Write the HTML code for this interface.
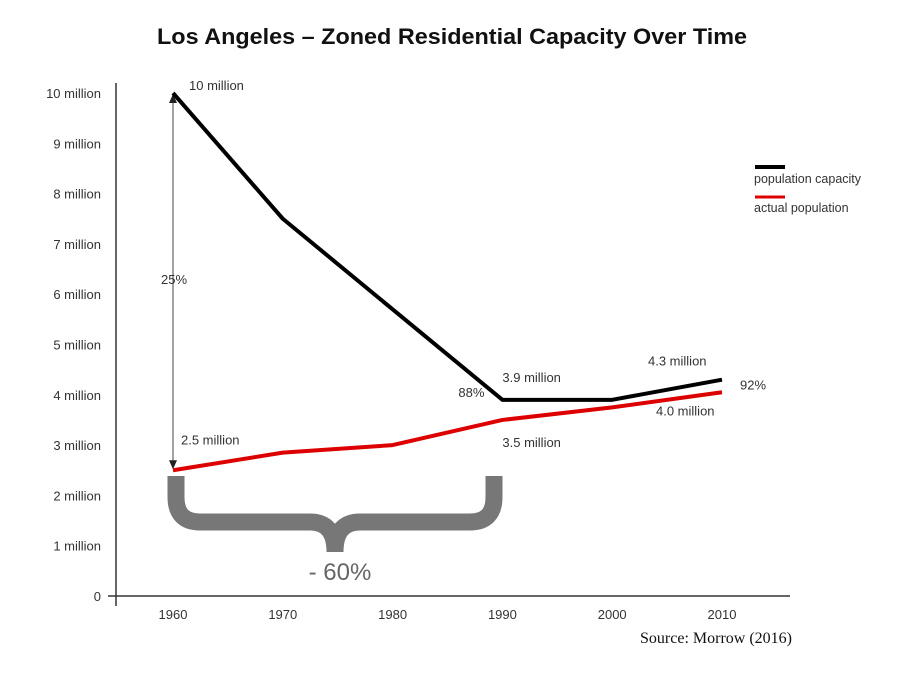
<!DOCTYPE html>
<html><head><meta charset="utf-8"><style>
body{margin:0;background:#fff;width:919px;height:673px;overflow:hidden}
svg text{font-family:"Liberation Sans",sans-serif}
</style></head><body>
<svg width="919" height="673">
<text x="452" y="44" text-anchor="middle" font-size="22" font-weight="bold" fill="#111" textLength="590" lengthAdjust="spacingAndGlyphs">Los Angeles – Zoned Residential Capacity Over Time</text>
<g id="axes"></g>
<g id="marks"></g>
<g>
<path d="M176,476 L176,497 Q176,522 200,522 L310,522 Q335,522 335,552 Q335,522 360,522 L470,522 Q494,522 494,497 L494,476" fill="none" stroke="#777" stroke-width="17"/>
</g>
<text x="340" y="580" text-anchor="middle" font-size="24" fill="#666">- 60%</text>
<text x="792" y="643" text-anchor="end" font-size="16" fill="#111" style="font-family:'Liberation Serif',serif">Source: Morrow (2016)</text>
<g>
<line x1="755" y1="167" x2="785" y2="167" stroke="#000" stroke-width="4"/>
<text x="754" y="183" font-size="12.5" fill="#333">population capacity</text>
<line x1="755" y1="197" x2="785" y2="197" stroke="#d00" stroke-width="3"/>
<text x="754" y="212" font-size="12.5" fill="#333">actual population</text>
</g>
</svg>
<script>
const years=[1960,1970,1980,1990,2000,2010];
const capacity=[10,7.5,5.7,3.9,3.9,4.3];
const actual=[2.5,2.85,3.0,3.5,3.75,4.05];
const yTicks=[0,1,2,3,4,5,6,7,8,9,10];
const notes=[["10 million",1960,10,16,-3],["25%",1960,6.2,-12,0],["2.5 million",1960,2.5,8,-26],["3.9 million",1990,3.9,0,-18],["88%",1990,3.5,-44,-23],["3.5 million",1990,3.5,0,27],["4.3 million",2010,4.3,-74,-14],["92%",2010,4.3,18,10],["4.0 million",2010,4.05,-66,23]];
const NS="http://www.w3.org/2000/svg";
const X=y=>173+(y-1960)*10.98;
const Y=v=>596-v*50.3;
function mk(t,a,p){const e=document.createElementNS(NS,t);for(const k in a)e.setAttribute(k,a[k]);p.appendChild(e);return e;}
const ax=document.getElementById('axes'),mg=document.getElementById('marks');
let l=mk('line',{x1:116,y1:83,x2:116,y2:606,stroke:'#333','stroke-width':1.5},ax);


l=mk('line',{x1:108,y1:596,x2:790,y2:596,stroke:'#333','stroke-width':1.5},ax);


yTicks.forEach(v=>{const t=mk('text',{x:101,y:Y(v)+5,'text-anchor':'end','font-size':13,fill:'#333'},ax);t.textContent=v?v+' million':'0';

});
years.forEach(y=>{const t=mk('text',{x:X(y),y:619,'text-anchor':'middle','font-size':13,fill:'#333'},ax);t.textContent=y;

});
let a=mk('line',{x1:X(1960),y1:Y(10)+6,x2:X(1960),y2:Y(2.5)-6,stroke:'#444','stroke-width':1},mg);


mk('path',{d:`M${X(1960)-4},${Y(10)+10} L${X(1960)},${Y(10)+1} L${X(1960)+4},${Y(10)+10}Z M${X(1960)-4},${Y(2.5)-10} L${X(1960)},${Y(2.5)-1} L${X(1960)+4},${Y(2.5)-10}Z`,fill:'#222'},mg);
let p=mk('polyline',{points:years.map((y,i)=>X(y)+','+Y(capacity[i])).join(' '),fill:'none',stroke:'#000','stroke-width':4,'stroke-linejoin':'round'},mg);


p=mk('polyline',{points:years.map((y,i)=>X(y)+','+Y(actual[i])).join(' '),fill:'none',stroke:'#d00','stroke-width':4,'stroke-linejoin':'round'},mg);


notes.forEach(n=>{const t=mk('text',{x:X(n[1])+n[3],y:Y(n[2])+n[4],'font-size':13,fill:'#333'},mg);t.textContent=n[0];

});
</script>
</body></html>
